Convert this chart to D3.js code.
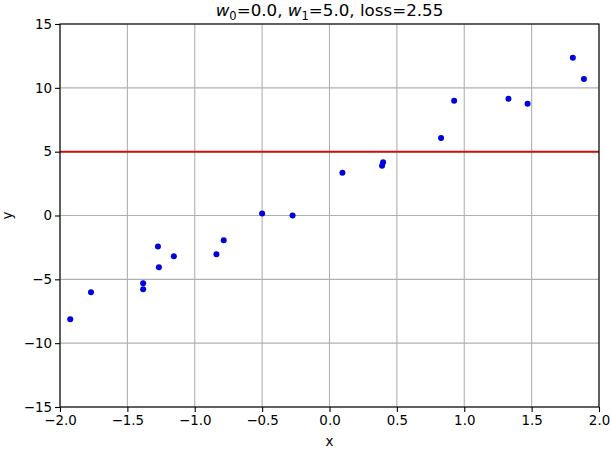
<!DOCTYPE html>
<html>
<head>
<meta charset="utf-8">
<script src="https://cdn.jsdelivr.net/npm/d3@7"></script>
<style>
  body { margin: 0; background: #fff; }
  svg { display: block; font-family: "DejaVu Sans", sans-serif; }
</style>
</head>
<body>
<svg></svg>
<script>
var xs = [-1.924, -1.77, -1.383, -1.383, -1.273, -1.266, -1.155, -0.839, -0.785, -0.5,
          -0.274, 0.096, 0.39, 0.398, 0.828, 0.925, 1.328, 1.47, 1.806, 1.888];
var ys = [-8.13, -6.02, -5.31, -5.78, -2.42, -4.06, -3.2, -3.03, -1.94, 0.16,
          0.0, 3.34, 3.89, 4.17, 6.08, 8.98, 9.14, 8.75, 12.35, 10.7];
var w0 = 0.0, w1 = 5.0, loss = 2.55;
var xTicks = [-2.0, -1.5, -1.0, -0.5, 0.0, 0.5, 1.0, 1.5, 2.0];
var yTicks = [-15, -10, -5, 0, 5, 10, 15];

var svgWidth = 610, svgHeight = 450;
var margin = {left: 60, right: 11, top: 24, bottom: 43};

var svg = d3.select('svg')
  .attr('width', svgWidth)
  .attr('height', svgHeight);

var x = d3.scaleLinear().domain([-2, 2]).range([margin.left, svgWidth - margin.right]);
var y = d3.scaleLinear().domain([-15, 15]).range([svgHeight - margin.bottom, margin.top]);

// grid
svg.append('g').selectAll('line')
  .data(xTicks)
  .enter().append('line')
  .attr('x1', function (d) { return x(d); })
  .attr('x2', function (d) { return x(d); })
  .attr('y1', y(-15)).attr('y2', y(15))
  .attr('stroke', '#b0b0b0').attr('stroke-width', 1.1);
svg.append('g').selectAll('line')
  .data(yTicks)
  .enter().append('line')
  .attr('y1', function (d) { return y(d); })
  .attr('y2', function (d) { return y(d); })
  .attr('x1', x(-2)).attr('x2', x(2))
  .attr('stroke', '#b0b0b0').attr('stroke-width', 1.1);

// fitted line
svg.append('line')
  .attr('x1', x(-2)).attr('x2', x(2))
  .attr('y1', y(w0 * -2 + w1)).attr('y2', y(w0 * 2 + w1))
  .attr('stroke', '#cc1010').attr('stroke-width', 2);

// points
svg.append('g').selectAll('circle')
  .data(xs)
  .enter().append('circle')
  .attr('cx', function (d) { return x(d); })
  .attr('cy', function (d, i) { return y(ys[i]); })
  .attr('r', 3)
  .attr('fill', '#0000dd');

// axes
var fmt = d3.format('.1f');
var minusFmt = function (d) { return fmt(d).replace('-', '\u2212'); };
var xAxis = svg.append('g')
  .attr('transform', 'translate(0,' + y(-15) + ')')
  .call(d3.axisBottom(x).tickValues(xTicks).tickFormat(minusFmt).tickSize(5).tickPadding(3));
var yAxis = svg.append('g')
  .attr('transform', 'translate(' + x(-2) + ',0)')
  .call(d3.axisLeft(y).tickValues(yTicks).tickFormat(function (d) { return String(d).replace('-', '\u2212'); }).tickSize(5).tickPadding(3));
[xAxis, yAxis].forEach(function (g) {
  g.selectAll('text').attr('font-size', '13.4px').attr('font-family', '"DejaVu Sans", sans-serif').attr('fill', '#000');
  g.select('.domain').remove();
  g.selectAll('.tick line').attr('stroke', '#000').attr('stroke-width', 1.1);
});

// frame
svg.append('rect')
  .attr('x', x(-2)).attr('y', y(15))
  .attr('width', x(2) - x(-2)).attr('height', y(-15) - y(15))
  .attr('fill', 'none').attr('stroke', '#000').attr('stroke-width', 1.1);

// labels
svg.append('text')
  .attr('x', (x(-2) + x(2)) / 2).attr('y', 446)
  .attr('text-anchor', 'middle').attr('font-size', '13.4px')
  .text('x');
svg.append('text')
  .attr('transform', 'translate(12,' + y(0) + ') rotate(-90)')
  .attr('text-anchor', 'middle').attr('font-size', '13.4px')
  .text('y');

var title = svg.append('text')
  .attr('x', (x(-2) + x(2)) / 2).attr('y', 16)
  .attr('text-anchor', 'middle').attr('font-size', '16.7px');
title.append('tspan').attr('font-style', 'italic').text('w');
title.append('tspan').attr('font-size', '11.5px').attr('dy', 4).text('0');
title.append('tspan').attr('dy', -4).text('=' + w0.toFixed(1) + ', ');
title.append('tspan').attr('font-style', 'italic').text('w');
title.append('tspan').attr('font-size', '11.5px').attr('dy', 4).text('1');
title.append('tspan').attr('dy', -4).text('=' + w1.toFixed(1) + ', loss=' + loss.toFixed(2));
</script>
</body>
</html>
